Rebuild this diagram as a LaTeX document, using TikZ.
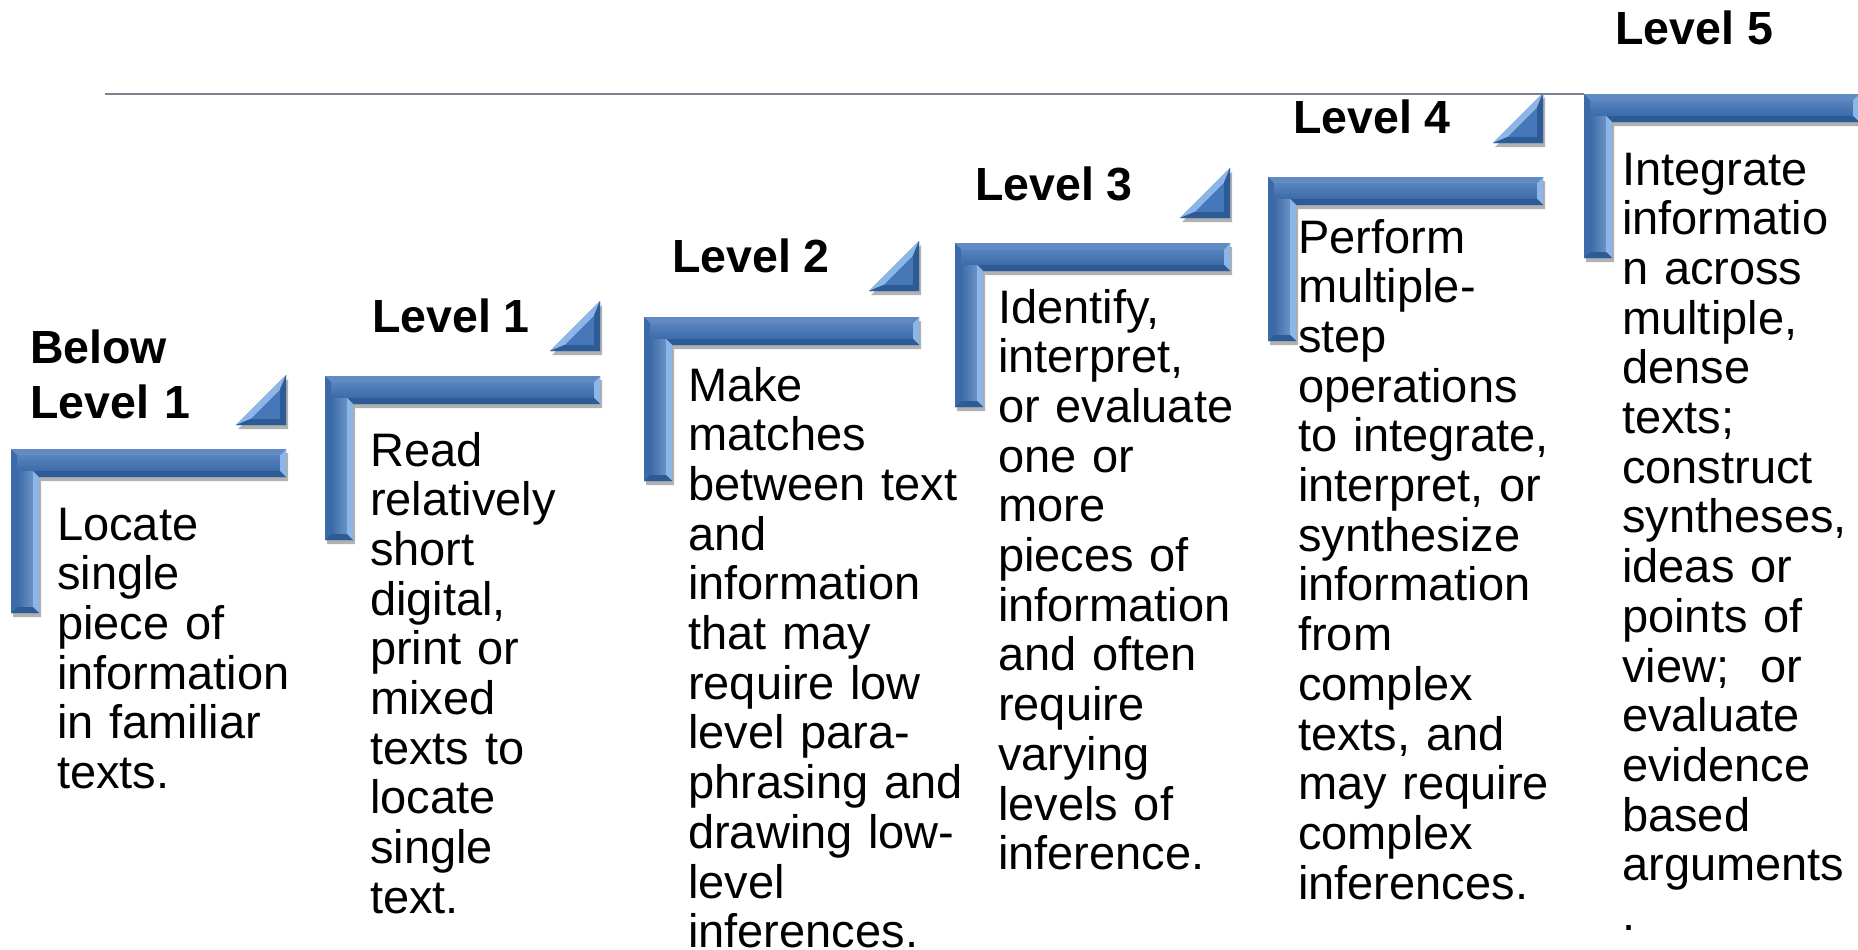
\documentclass[tikz,border=0pt]{standalone}
\usepackage{fontspec}
\setmainfont{Liberation Sans}
\usetikzlibrary{shadows}

\definecolor{barblue}{HTML}{4677B8}
\definecolor{barlight}{HTML}{8DB6E8}
\definecolor{bardark}{HTML}{2D5B95}
\definecolor{barmid}{HTML}{3A6AA8}
\definecolor{rulegray}{HTML}{7A848F}

\tikzset{
  levelbar/.style={fill=barblue, drop shadow={shadow xshift=2pt, shadow yshift=-4pt, opacity=.3, fill=black}},
  levelhead/.style={anchor=base west, inner sep=0pt, font=\fontsize{46.5}{55}\selectfont\bfseries},
  leveltext/.style={anchor=base west, inner sep=0pt, text width=300pt, align=left, font=\fontsize{47}{49.7}\selectfont},
}

\begin{document}
\begin{tikzpicture}[x=1pt, y=-1pt]
    \useasboundingbox (0,0) rectangle (1858,950);
    \clip (0,0) rectangle (1858,950);

    % the six steps
    \foreach \sx/\sy [count=\i from 0] in {11/449, 325/376, 644/317, 955/243, 1268/177, 1584/94}{
        \coordinate (step\i) at (\sx,\sy);
        \begin{scope}[shift={(\sx,\sy)}]
            \fill[levelbar] (0,0) -- (275,0) -- (275,28) -- (28,28) -- (28,164) -- (0,164) -- cycle;
            \shade[top color=barblue!90!white, bottom color=barmid] (6,6) -- (269,6) -- (269,22) -- (22,22) -- (6,22) -- cycle;
            \shade[left color=barmid, right color=barblue!80!white] (6,22) -- (22,22) -- (22,158) -- (6,158) -- cycle;
            \fill[barlight] (275,0) -- (275,28) -- (269,22) -- (269,6) -- cycle;
            \fill[bardark] (275,28) -- (28,28) -- (22,22) -- (269,22) -- cycle;
            \fill[barlight] (28,28) -- (28,164) -- (22,158) -- (22,22) -- cycle;
            \fill[bardark] (28,164) -- (0,164) -- (6,158) -- (22,158) -- cycle;
            \fill[barmid] (0,164) -- (0,0) -- (6,6) -- (6,158) -- cycle;
            \fill[barblue!85!white] (0,0) -- (275,0) -- (269,6) -- (6,6) -- cycle;
        \end{scope}
    }

    % small corner triangles
    \foreach \tx/\ty in {286/375, 600/301, 919/241, 1230/168, 1543/93}{
        \begin{scope}[shift={(\tx,\ty)}]
            \fill[levelbar] (0,0) -- (0,50) -- (-50,50) -- cycle;
            \fill[barlight] (0,0) -- (-50,50) -- (-35.5,44) -- (-6,14.5) -- cycle;
            \fill[bardark] (0,0) -- (0,50) -- (-6,44) -- (-6,14.5) -- cycle;
            \fill[bardark] (0,50) -- (-50,50) -- (-35.5,44) -- (-6,44) -- cycle;
        \end{scope}
    }

    \coordinate (rulestart) at (105,94);
    \draw[rulegray, line width=1.5pt] (rulestart) -- (step5);

    \node[levelhead, text width=220pt, align=left] (head0) at (30,363) {Below\\Level 1};
    \node[levelhead] (head1) at (372,332) {Level 1};
    \node[levelhead] (head2) at (672,272) {Level 2};
    \node[levelhead] (head3) at (975,200) {Level 3};
    \node[levelhead] (head4) at (1293,133) {Level 4};
    \node[levelhead] (head5) at (1615,45) {Level 5};

    \node[leveltext] (text0) at (57,540) {Locate\\single\\piece of\\information\\in familiar\\texts.};
    \node[leveltext] (text1) at (370,466) {Read\\relatively\\short\\digital,\\print or\\mixed\\texts to\\locate\\single\\text.};
    \node[leveltext] (text2) at (688,401) {Make\\matches\\between text\\and\\information\\that may\\require low\\level para-\\phrasing and\\drawing low-\\level\\inferences.};
    \node[leveltext] (text3) at (998,323) {Identify,\\interpret,\\or evaluate\\one or\\more\\pieces of\\information\\and often\\require\\varying\\levels of\\inference.};
    \node[leveltext] (text4) at (1298,253) {Perform\\multiple-\\step\\operations\\to integrate,\\interpret, or\\synthesize\\information\\from\\complex\\texts, and\\may require\\complex\\inferences.};
    \node[leveltext] (text5) at (1622,185) {Integrate\\informatio\\n across\\multiple,\\dense\\texts;\\construct\\syntheses,\\ideas or\\points of\\view;~ or\\evaluate\\evidence\\based\\arguments\\.};
\end{tikzpicture}
\end{document}
